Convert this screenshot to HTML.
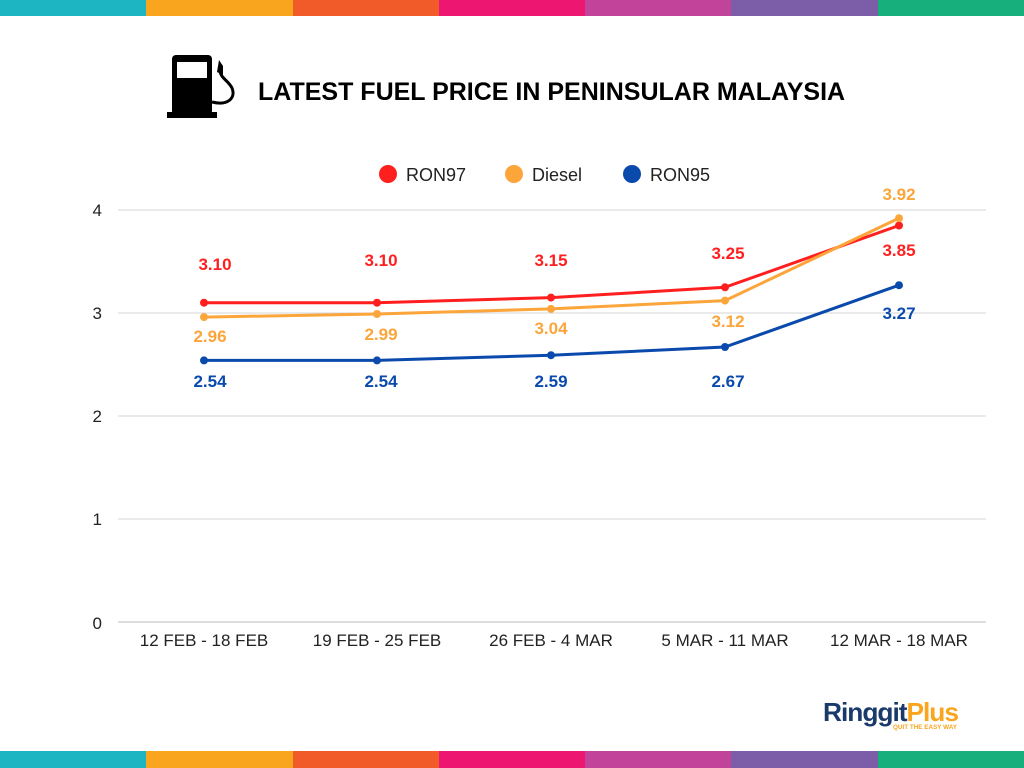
<!DOCTYPE html>
<html><head><meta charset="utf-8"><style>
body{margin:0;width:1024px;height:768px;background:#fff;overflow:hidden;font-family:"Liberation Sans",sans-serif;position:relative}
.bar{position:absolute;left:0;width:1024px;height:16px;display:flex}
.bar div{flex:1}
</style></head><body>
<div class="bar" style="top:0"><div style="background:#1cb5c1"></div><div style="background:#f9a51d"></div><div style="background:#f15a29"></div><div style="background:#ed1671"></div><div style="background:#c2439a"></div><div style="background:#7b5ea7"></div><div style="background:#17b07c"></div></div>
<div class="bar" style="top:751px;height:17px"><div style="background:#1cb5c1"></div><div style="background:#f9a51d"></div><div style="background:#f15a29"></div><div style="background:#ed1671"></div><div style="background:#c2439a"></div><div style="background:#7b5ea7"></div><div style="background:#17b07c"></div></div>
<svg width="1024" height="768" style="position:absolute;left:0;top:0" font-family="Liberation Sans, sans-serif">
<rect x="172" y="55" width="40" height="60" rx="4" fill="#000"/>
<rect x="177" y="62" width="30" height="16" fill="#fff"/>
<rect x="167" y="112" width="50" height="6" fill="#000"/>
<path d="M212 102 C228 106 236 98 232 88 C228 80 220 78 220 70" stroke="#000" stroke-width="3" fill="none"/>
<path d="M217 72 L219 60 L223 66 L223 75 Z" fill="#000"/>
<text x="258" y="100" font-size="25" font-weight="bold" fill="#000">LATEST FUEL PRICE IN PENINSULAR MALAYSIA</text>
<circle cx="388" cy="174" r="9" fill="#ff1f1f"/><text x="406" y="181" font-size="18" fill="#222">RON97</text>
<circle cx="514" cy="174" r="9" fill="#fca53a"/><text x="532" y="181" font-size="18" fill="#222">Diesel</text>
<circle cx="632" cy="174" r="9" fill="#0b4aad"/><text x="650" y="181" font-size="18" fill="#222">RON95</text>
<g stroke="#d4d4d4" stroke-width="1">
<line x1="118" y1="210" x2="986" y2="210"/><line x1="118" y1="313" x2="986" y2="313"/><line x1="118" y1="416" x2="986" y2="416"/><line x1="118" y1="519" x2="986" y2="519"/><line x1="118" y1="622" x2="986" y2="622" stroke="#bbb"/>
</g>
<g font-size="17" fill="#222" text-anchor="end">
<text x="102" y="216">4</text><text x="102" y="319">3</text><text x="102" y="422">2</text><text x="102" y="525">1</text><text x="102" y="629">0</text>
</g>
<g font-size="17" fill="#222" text-anchor="middle">
<text x="204" y="646">12 FEB - 18 FEB</text><text x="377" y="646">19 FEB - 25 FEB</text><text x="551" y="646">26 FEB - 4 MAR</text><text x="725" y="646">5 MAR - 11 MAR</text><text x="899" y="646">12 MAR - 18 MAR</text>
</g>
<polyline points="204,302.7 377,302.7 551,297.6 725,287.3 899,225.5" fill="none" stroke="#ff1f1f" stroke-width="3"/>
<polyline points="204,317.1 377,314.0 551,308.9 725,300.6 899,218.2" fill="none" stroke="#fca53a" stroke-width="3"/>
<polyline points="204,360.4 377,360.4 551,355.2 725,347.0 899,285.2" fill="none" stroke="#0b4aad" stroke-width="3"/>
<g fill="#ff1f1f"><circle cx="204" cy="302.7" r="4"/><circle cx="377" cy="302.7" r="4"/><circle cx="551" cy="297.6" r="4"/><circle cx="725" cy="287.3" r="4"/><circle cx="899" cy="225.5" r="4"/></g>
<g fill="#fca53a"><circle cx="204" cy="317.1" r="4"/><circle cx="377" cy="314" r="4"/><circle cx="551" cy="308.9" r="4"/><circle cx="725" cy="300.6" r="4"/><circle cx="899" cy="218.2" r="4"/></g>
<g fill="#0b4aad"><circle cx="204" cy="360.4" r="4"/><circle cx="377" cy="360.4" r="4"/><circle cx="551" cy="355.2" r="4"/><circle cx="725" cy="347" r="4"/><circle cx="899" cy="285.2" r="4"/></g>
<g font-size="17" font-weight="bold" text-anchor="middle">
<g fill="#ff1f1f"><text x="215" y="270">3.10</text><text x="381" y="266">3.10</text><text x="551" y="266">3.15</text><text x="728" y="259">3.25</text><text x="899" y="256">3.85</text></g>
<g fill="#fca53a"><text x="210" y="342">2.96</text><text x="381" y="340">2.99</text><text x="551" y="334">3.04</text><text x="728" y="327">3.12</text><text x="899" y="200">3.92</text></g>
<g fill="#0b4aad"><text x="210" y="387">2.54</text><text x="381" y="387">2.54</text><text x="551" y="387">2.59</text><text x="728" y="387">2.67</text><text x="899" y="319">3.27</text></g>
</g>
<text x="823" y="721" font-size="26" font-weight="bold" fill="#1a3a6b" letter-spacing="-1" textLength="135" lengthAdjust="spacingAndGlyphs">Ringgit<tspan fill="#f9a51d">Plus</tspan></text>
<text x="893" y="729" font-size="6" font-weight="bold" fill="#f9a51d" textLength="64" lengthAdjust="spacingAndGlyphs">QUIT THE EASY WAY</text>
</svg>
</body></html>
